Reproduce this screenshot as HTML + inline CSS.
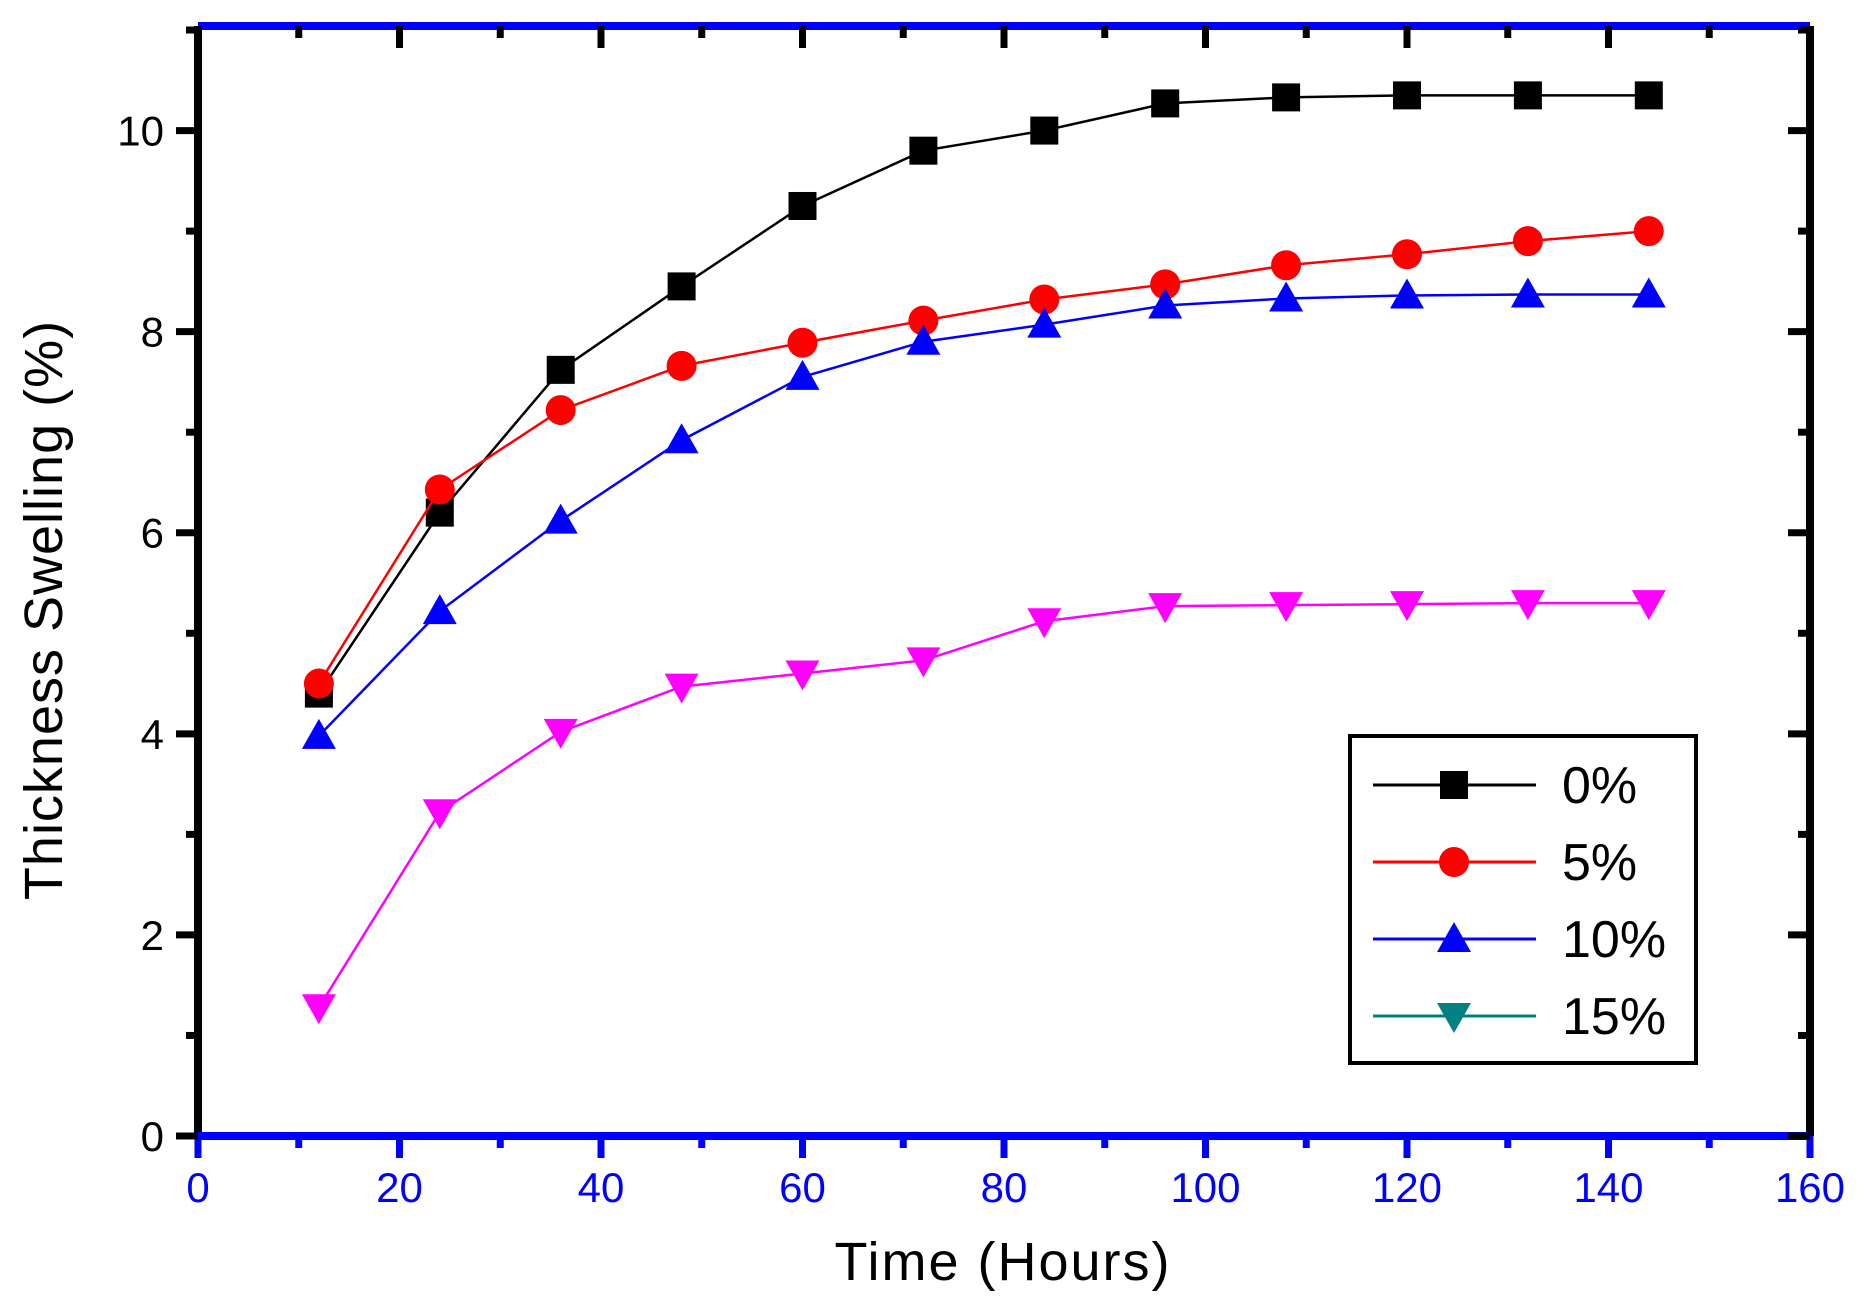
<!DOCTYPE html>
<html><head><meta charset="utf-8"><style>
html,body{margin:0;padding:0;background:#fff;}
svg{display:block;}
text{font-family:"Liberation Sans",sans-serif;}
</style></head><body>
<svg id="s" width="1866" height="1313" viewBox="0 0 1866 1313" xmlns="http://www.w3.org/2000/svg"></svg>
<script>
const L=198,R=1810,T=26,B=1136;
const X=v=>L+(v/160)*(R-L), Y=v=>B-(v/11.04)*(B-T);
let s='';
s+=`<line x1="${L}" y1="${T}" x2="${L}" y2="${B}" stroke="#000" stroke-width="8"/>`;
s+=`<line x1="${R}" y1="${T}" x2="${R}" y2="${B}" stroke="#000" stroke-width="8"/>`;
s+=`<line x1="${L}" y1="${T}" x2="${R}" y2="${T}" stroke="#00f" stroke-width="8"/>`;
s+=`<line x1="${L}" y1="${B}" x2="${R}" y2="${B}" stroke="#00f" stroke-width="8"/>`;
for(let v=0;v<=160;v+=10){const x=X(v),maj=v%20==0,l=maj?22:12;
 s+=`<line x1="${x}" y1="${B}" x2="${x}" y2="${B+l}" stroke="#00f" stroke-width="7"/>`;
 s+=`<line x1="${x}" y1="${T}" x2="${x}" y2="${T+l}" stroke="#000" stroke-width="7"/>`;
 if(maj)s+=`<text x="${x}" y="${B+66}" font-size="42" fill="#00f" text-anchor="middle">${v}</text>`;}
for(let v=0;v<=11;v+=1){const y=Y(v),maj=v%2==0,l=maj?22:12;
 s+=`<line x1="${L}" y1="${y}" x2="${L-l}" y2="${y}" stroke="#000" stroke-width="7"/>`;
 s+=`<line x1="${R}" y1="${y}" x2="${R-l}" y2="${y}" stroke="#000" stroke-width="7"/>`;
 if(maj)s+=`<text x="${L-34}" y="${y+15}" font-size="42" fill="#000" text-anchor="end">${v}</text>`;}
s+=`<text x="1003" y="1280" font-size="54" letter-spacing="2" text-anchor="middle">Time (Hours)</text>`;
s+=`<text transform="translate(62,610) rotate(-90)" font-size="54" letter-spacing="1" text-anchor="middle">Thickness Swelling (%)</text>`;
const xs=[12,24,36,48,60,72,84,96,108,120,132,144];
const D=[
 ['#000','sq',[4.4,6.2,7.62,8.45,9.25,9.8,10.0,10.27,10.33,10.35,10.35,10.35]],
 ['#f00','ci',[4.5,6.43,7.22,7.66,7.89,8.11,8.32,8.47,8.66,8.77,8.9,9.0]],
 ['#00f','up',[3.98,5.22,6.12,6.92,7.55,7.9,8.07,8.26,8.33,8.36,8.37,8.37]],
 ['#f0f','dn',[1.28,3.22,4.02,4.47,4.6,4.73,5.12,5.27,5.28,5.29,5.3,5.3]]];
function mk(t,x,y,c){
 if(t=='sq')return `<rect x="${x-14}" y="${y-14}" width="28" height="28" fill="${c}"/>`;
 if(t=='ci')return `<circle cx="${x}" cy="${y}" r="15" fill="${c}"/>`;
 if(t=='up')return `<polygon points="${x},${y-17} ${x-17},${y+13} ${x+17},${y+13}" fill="${c}"/>`;
 return `<polygon points="${x},${y+17} ${x-17},${y-13} ${x+17},${y-13}" fill="${c}"/>`;}
for(const [c,t,d] of D){
 s+=`<polyline points="${xs.map((v,i)=>X(v)+','+Y(d[i])).join(' ')}" fill="none" stroke="${c}" stroke-width="2.5"/>`;
 xs.forEach((v,i)=>s+=mk(t,X(v),Y(d[i]),c));}
s+=`<rect x="1350" y="736" width="346" height="327" fill="#fff" stroke="#000" stroke-width="4"/>`;
const LG=[['#000','sq','0%'],['#f00','ci','5%'],['#00f','up','10%'],['#008080','dn','15%']];
LG.forEach((g,i)=>{const y=785+i*77;
 s+=`<line x1="1373" y1="${y}" x2="1536" y2="${y}" stroke="${g[0]}" stroke-width="3"/>`;
 s+=mk(g[1],1454,y,g[0]);
 s+=`<text x="1562" y="${y+18}" font-size="52" fill="#000">${g[2]}</text>`;});
document.getElementById('s').innerHTML=s;
</script>
</body></html>
